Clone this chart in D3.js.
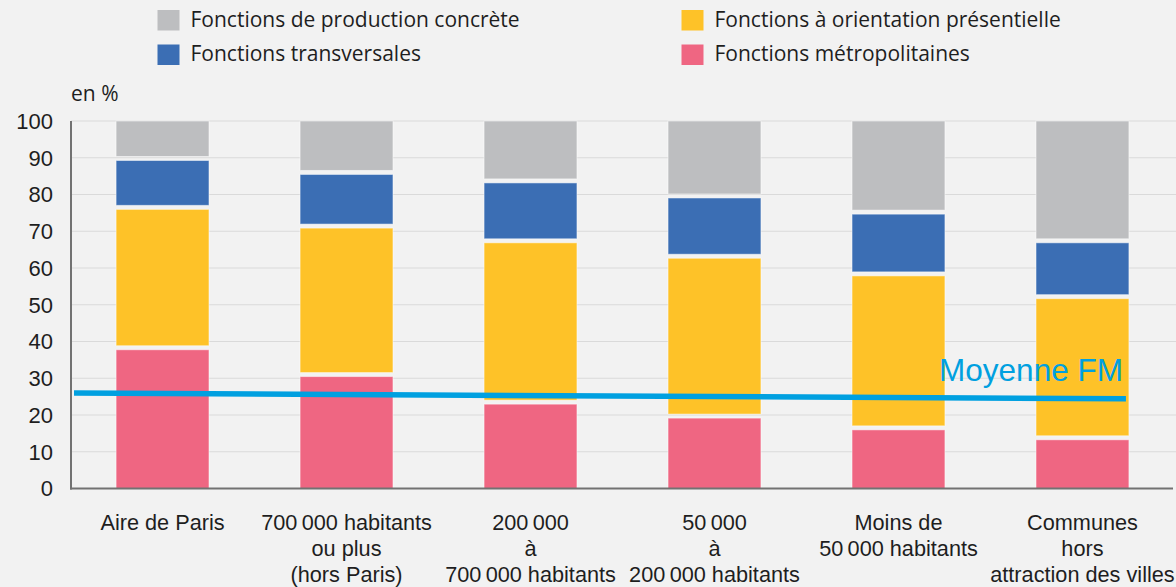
<!DOCTYPE html>
<html>
<head>
<meta charset="utf-8">
<script src="https://cdn.jsdelivr.net/npm/d3@7"></script>
<style>
  body { margin: 0; background: #f2f2f2; }
  svg { display: block; font-family: "Open Sans", "Noto Sans", sans-serif; }
  .tick text { fill: #1e1e1e; }
</style>
</head>
<body>
<svg id="chart" width="1176" height="587"></svg>
<script>
// categories (x labels, split into lines; narrow spaces in numbers)
let categories = [
  ["Aire de Paris"],
  ["700\u202F000 habitants", "ou plus", "(hors Paris)"],
  ["200\u202F000", "à", "700\u202F000 habitants"],
  ["50\u202F000", "à", "200\u202F000 habitants"],
  ["Moins de", "50\u202F000 habitants"],
  ["Communes", "hors", "attraction des villes"]
]

// series values, in %
let metropolitaines = [38.3, 31, 23.5, 19.7, 16.5, 13.8]
let presentielle = [38.2, 40.4, 43.9, 43.5, 41.9, 38.4]
let transversales = [13.3, 14.6, 16.3, 16.4, 16.8, 15.2]
let production = [10.2, 14, 16.3, 20.4, 24.8, 32.6]

// average line for fonctions métropolitaines (left end, right end)
let moyenneFM = [26, 24.4]

let y_ticks = [0, 10, 20, 30, 40, 50, 60, 70, 80, 90, 100]

let series_names = [
  {key: "metropolitaines", label: "Fonctions métropolitaines", color: "#ef6682"},
  {key: "presentielle", label: "Fonctions à orientation présentielle", color: "#fec228"},
  {key: "transversales", label: "Fonctions transversales", color: "#3b6eb4"},
  {key: "production", label: "Fonctions de production concrète", color: "#bdbec0"}
]

let margin = {top: 121, right: 2, bottom: 98.5, left: 71}
let width = 1176, height = 587

function build_table() {
  return categories.map((c, i) => ({
    cat: c.join(" "),
    metropolitaines: metropolitaines[i],
    presentielle: presentielle[i],
    transversales: transversales[i],
    production: production[i]
  }))
}

function make_scales(table) {
  return {
    x: d3.scaleBand()
      .domain(table.map(d => d.cat))
      .range([margin.left, width - margin.right])
      .paddingInner(0.495)
      .paddingOuter(0.245),
    y: d3.scaleLinear()
      .domain([0, 100])
      .range([height - margin.bottom, margin.top])
  }
}

function draw_grid(svg, scales) {
  svg.append("g")
    .selectAll("line")
    .data(y_ticks.filter(t => t > 0)).enter()
    .append("line")
    .attr("x1", margin.left)
    .attr("x2", width)
    .attr("y1", d => scales.y(d))
    .attr("y2", d => scales.y(d))
    .attr("stroke", "#dadada")
    .attr("stroke-width", 1.2)
}

function draw_bars(svg, table, scales) {
  let stacked = d3.stack().keys(series_names.map(s => s.key))(table)
  let gap = 2

  svg.append("g")
    .selectAll("g")
    .data(stacked).enter()
    .append("g")
    .attr("fill", (d, i) => series_names[i].color)
    .selectAll("rect")
    .data(d => d).enter()
    .append("rect")
    .attr("x", d => scales.x(d.data.cat))
    .attr("width", scales.x.bandwidth())
    .attr("y", d => scales.y(d[1]) + (d[1] >= 100 ? 0 : gap))
    .attr("height", d => scales.y(d[0]) - scales.y(d[1]) - (d[1] >= 100 ? 0 : gap) - (d[0] <= 0 ? 0 : gap))
    .attr("stroke", "#ffffff")
    .attr("stroke-opacity", 0.5)
    .attr("stroke-width", 1)
}

function draw_axes(svg, scales) {
  let y_axis = d3.axisLeft(scales.y).tickValues(y_ticks).tickSize(0).tickPadding(18)
  let gy = svg.append("g")
    .attr("transform", `translate(${margin.left}, 0)`)
    .call(y_axis)
  gy.select(".domain").remove()
  gy.selectAll("text").style("font-size", "22px").attr("dy", "0.34em")

  let x_axis = d3.axisBottom(scales.x).tickSize(0).tickFormat("")
  let gx = svg.append("g")
    .attr("transform", `translate(0, ${height - margin.bottom})`)
    .call(x_axis)
  gx.select(".domain").remove()
  gx.selectAll(".tick text").remove()
  gx.selectAll(".tick")
    .append("text")
    .attr("text-anchor", "middle")
    .style("font-size", "21.7px")
    .attr("fill", "#1e1e1e")
    .selectAll("tspan")
    .data((d, i) => categories[i]).enter()
    .append("tspan")
    .attr("x", 0)
    .attr("y", (d, i) => 41 + i * 26.3)
    .text(d => d)

  // axis lines
  svg.append("line")
    .attr("x1", margin.left).attr("x2", margin.left)
    .attr("y1", scales.y(100)).attr("y2", scales.y(0) + 1)
    .attr("stroke", "#727272").attr("stroke-width", 2)
  svg.append("line")
    .attr("x1", margin.left - 1).attr("x2", width - 3)
    .attr("y1", scales.y(0)).attr("y2", scales.y(0))
    .attr("stroke", "#727272").attr("stroke-width", 2)

  svg.append("text")
    .attr("x", margin.left)
    .attr("y", 100.5)
    .style("font-size", "21px")
    .attr("fill", "#1e1e1e")
    .text("en %")
}

function draw_average(svg, scales) {
  let last = scales.x.domain()[scales.x.domain().length - 1]
  let xs = [margin.left + 3, scales.x(last) + scales.x.bandwidth() - 3]
  let line = d3.line()
    .x((d, i) => xs[i])
    .y(d => scales.y(d))
  svg.append("path")
    .attr("d", line(moyenneFM))
    .attr("fill", "none")
    .attr("stroke", "#00a0e0")
    .attr("stroke-width", 5.5)

  svg.append("text")
    .attr("x", xs[1] - 3)
    .attr("y", scales.y(moyenneFM[1]) - 18)
    .attr("text-anchor", "end")
    .style("font-family", "'Liberation Sans', Arial, sans-serif")
    .style("font-size", "31.5px")
    .attr("fill", "#00a0e0")
    .text("Moyenne FM")
}

function draw_legend(svg) {
  let order = [
    {s: series_names[3], x: 157.5, y: 10},
    {s: series_names[2], x: 157.5, y: 44.5},
    {s: series_names[1], x: 681.5, y: 10},
    {s: series_names[0], x: 681.5, y: 44.5}
  ]
  let items = svg.append("g")
    .selectAll("g")
    .data(order).enter()
    .append("g")
    .attr("transform", d => `translate(${d.x}, ${d.y})`)
  items.append("rect")
    .attr("width", 22).attr("height", 20.5)
    .attr("fill", d => d.s.color)
  items.append("text")
    .attr("x", 33)
    .attr("y", 16.6)
    .style("font-size", "21px")
    .attr("fill", "#1e1e1e")
    .text(d => d.s.label)
}

function visualize() {
  let svg = d3.select("#chart")
  let table = build_table()
  let scales = make_scales(table)
  draw_grid(svg, scales)
  draw_bars(svg, table, scales)
  draw_average(svg, scales)
  draw_axes(svg, scales)
  draw_legend(svg)
}

visualize()
</script>
</body>
</html>
